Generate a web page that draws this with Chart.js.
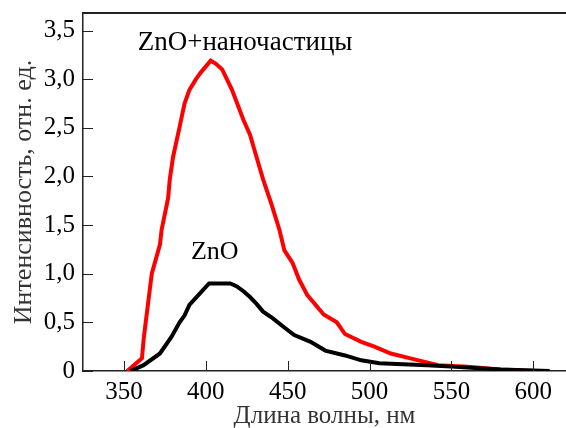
<!DOCTYPE html>
<html>
<head>
<meta charset="utf-8">
<script src="https://cdn.jsdelivr.net/npm/chart.js@4"></script>
<style>
  html, body { margin: 0; padding: 0; background: #fff; }
  #wrap { width: 566px; height: 428px; }
</style>
</head>
<body>
<div id="wrap"><canvas id="spectrumChart" width="566" height="428"></canvas></div>
<script>
// wavelength (nm) and intensity
var redX = [352, 361, 362, 363, 365, 367, 372, 373, 377, 378, 380, 384, 387, 390, 394, 397, 403, 406, 410, 416, 423, 427, 432, 435, 440, 445, 448, 453, 457, 462, 472, 480, 485, 495, 503, 513, 525, 542, 560, 580, 601];
var redY = [0, 0.13, 0.32, 0.46, 0.73, 1.0, 1.3, 1.45, 1.78, 1.97, 2.2, 2.51, 2.75, 2.89, 3.0, 3.07, 3.19, 3.16, 3.10, 2.89, 2.58, 2.43, 2.14, 1.97, 1.72, 1.45, 1.24, 1.11, 0.94, 0.78, 0.58, 0.50, 0.38, 0.30, 0.25, 0.18, 0.13, 0.06, 0.045, 0.015, 0];

var blackX = [354, 362, 372, 379, 384, 387, 390, 396, 402, 415, 419, 423, 427, 431, 435, 441, 447, 454, 464, 473, 485, 495, 506, 535, 550, 580, 610];
var blackY = [0, 0.06, 0.18, 0.35, 0.5, 0.57, 0.68, 0.79, 0.90, 0.90, 0.87, 0.82, 0.76, 0.69, 0.61, 0.54, 0.46, 0.37, 0.30, 0.21, 0.16, 0.11, 0.08, 0.06, 0.045, 0.015, 0];

var xTicks = [350, 400, 450, 500, 550, 600];
var yTicks = [0, 0.5, 1.0, 1.5, 2.0, 2.5, 3.0, 3.5];

var seriesNames = ["ZnO+наночастицы", "ZnO"];

var FONT = "'Liberation Serif', 'Times New Roman', serif";

function toPoints(xs, ys) {
  var pts = [];
  for (var i = 0; i < xs.length; i++) pts.push({ x: xs[i], y: ys[i] });
  return pts;
}

// inward ticks, top border and curve labels
var decorPlugin = {
  id: "decor",
  afterDraw: function (chart) {
    var ctx = chart.ctx;
    var area = chart.chartArea;
    var xs = chart.scales.x, ys = chart.scales.y;
    ctx.save();
    ctx.strokeStyle = "#222";
    ctx.lineWidth = 2;
    ctx.beginPath();
    ctx.moveTo(area.left, area.top);
    ctx.lineTo(area.right, area.top);
    ctx.stroke();

    ctx.lineWidth = 1;
    xTicks.forEach(function (v) {
      var px = Math.round(xs.getPixelForValue(v)) + 0.5;
      ctx.beginPath();
      ctx.moveTo(px, area.bottom);
      ctx.lineTo(px, area.bottom - 10);
      ctx.stroke();
    });
    yTicks.forEach(function (v) {
      var py = Math.round(ys.getPixelForValue(v)) + 0.5;
      ctx.beginPath();
      ctx.moveTo(area.left, py);
      ctx.lineTo(area.left + 10, py);
      ctx.stroke();
    });

    ctx.fillStyle = "#000";
    ctx.textAlign = "center";
    ctx.textBaseline = "middle";
    ctx.font = "27px " + FONT;
    ctx.fillText(seriesNames[0], xs.getPixelForValue(424), ys.getPixelForValue(3.37));
    ctx.font = "26px " + FONT;
    ctx.fillText(seriesNames[1], xs.getPixelForValue(405.5), ys.getPixelForValue(1.22));
    ctx.restore();
  }
};

var ctx = document.getElementById("spectrumChart").getContext("2d");
new Chart(ctx, {
  type: "line",
  data: {
    datasets: [
      {
        label: seriesNames[1],
        data: toPoints(blackX, blackY),
        borderColor: "#000000",
        borderWidth: 4,
        pointRadius: 0,
        tension: 0
      },
      {
        label: seriesNames[0],
        data: toPoints(redX, redY),
        borderColor: "#ff0000",
        borderWidth: 4,
        pointRadius: 0,
        tension: 0
      }
    ]
  },
  options: {
    responsive: false,
    animation: false,
    layout: { padding: { top: 13, right: 0, left: 0, bottom: 0 } },
    plugins: {
      legend: { display: false },
      tooltip: { enabled: false }
    },
    scales: {
      x: {
        type: "linear",
        min: 325,
        max: 620,
        afterBuildTicks: function (scale) {
          scale.ticks = xTicks.map(function (v) { return { value: v }; });
        },
        afterFit: function (scale) {
          scale.height = 57;
          scale.paddingLeft = 0;
          scale.paddingRight = 0;
        },
        grid: { display: true, drawOnChartArea: false, drawTicks: false },
        border: { display: true, color: "#222", width: 1.5 },
        ticks: {
          padding: 6,
          color: "#000",
          font: { family: FONT, size: 25 },
          maxRotation: 0
        },
        title: {
          display: true,
          text: "Длина волны, нм",
          color: "#333",
          font: { family: FONT, size: 25 },
          padding: { top: 0, bottom: -3 }
        }
      },
      y: {
        type: "linear",
        min: 0,
        max: 3.68,
        afterBuildTicks: function (scale) {
          scale.ticks = yTicks.map(function (v) { return { value: v }; });
        },
        afterFit: function (scale) {
          scale.width = 83;
          scale.paddingTop = 0;
          scale.paddingBottom = 0;
        },
        grid: { display: true, drawOnChartArea: false, drawTicks: false },
        border: { display: true, color: "#222", width: 1.5 },
        ticks: {
          padding: 8,
          color: "#000",
          font: { family: FONT, size: 25 },
          callback: function (v) {
            return v === 0 ? "0" : v.toFixed(1).replace(".", ",");
          }
        },
        title: {
          display: true,
          text: "Интенсивность, отн. ед.",
          color: "#333",
          font: { family: FONT, size: 26 },
          padding: { top: 9, bottom: 0 }
        }
      }
    }
  },
  plugins: [decorPlugin]
});
</script>
</body>
</html>
